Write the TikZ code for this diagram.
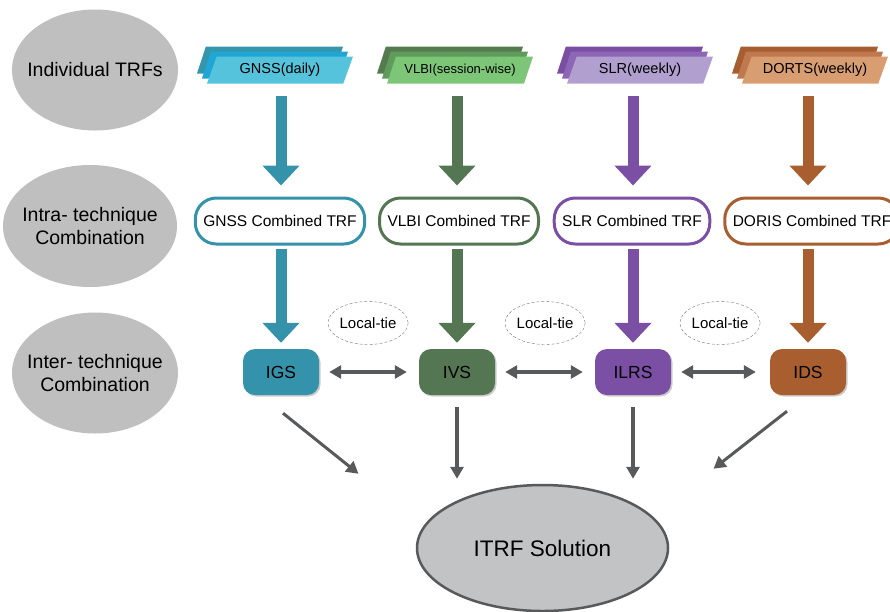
\documentclass[tikz,border=0pt]{standalone}
\usepackage{fontspec}
\setmainfont{Liberation Sans}
\usetikzlibrary{shapes,arrows.meta,positioning,calc,shadows}

\definecolor{gnss}{HTML}{3493AA}
\definecolor{gnssL}{HTML}{55C3DC}
\definecolor{gnssM}{HTML}{1FA6D4}
\definecolor{gnssB}{HTML}{3596AB}
\definecolor{vlbi}{HTML}{557652}
\definecolor{vlbiL}{HTML}{7DC677}
\definecolor{vlbiM}{HTML}{5F9B5A}
\definecolor{vlbiB}{HTML}{557A50}
\definecolor{slr}{HTML}{7B4FA3}
\definecolor{slrL}{HTML}{B09FCF}
\definecolor{slrM}{HTML}{8E66B6}
\definecolor{slrB}{HTML}{7A4EA3}
\definecolor{doris}{HTML}{A95E30}
\definecolor{dorisL}{HTML}{D89E72}
\definecolor{dorisM}{HTML}{C0784E}
\definecolor{dorisB}{HTML}{A65E30}
\definecolor{levelgray}{HTML}{BFBFBF}
\definecolor{itrfgray}{HTML}{C2C3C5}
\definecolor{linkgray}{HTML}{58595B}
\definecolor{tiegray}{HTML}{7A7A7A}

\tikzset{
  level/.style={ellipse, fill=levelgray, minimum width=166pt, minimum height=121pt, inner sep=0pt},
  leveltext/.style={align=center, font=\fontsize{19.5}{23}\selectfont},
  input/.style={trapezium, trapezium left angle=61, trapezium right angle=119,
    trapezium stretches body=true, minimum width=146pt, minimum height=27pt, inner sep=2pt},
  combined/.style={draw=#1, line width=3pt, fill=white, rounded corners=21pt,
    minimum height=46pt, inner xsep=8pt, font=\fontsize{15.5}{18}\selectfont},
  agency/.style={fill=#1, rounded corners=12pt, minimum width=76pt, minimum height=46pt,
    font=\fontsize{17.5}{20}\selectfont,
    drop shadow={shadow xshift=1.5pt, shadow yshift=-1.5pt, opacity=0.4}},
  bigarrow/.style={draw=#1, line width=11pt,
    -{Triangle[width=36pt,length=20pt]}},
  tie/.style={ellipse, draw=tiegray, dash pattern=on 3pt off 2pt, minimum width=73pt,
    minimum height=43pt, inner sep=0pt, font=\fontsize{15}{18}\selectfont},
  link/.style={draw=linkgray, line width=3.5pt, ->},
  pair/.style={draw=linkgray, line width=3.5pt, <->},
}

\begin{document}
\begin{tikzpicture}[x=1pt,y=-1pt,>={Triangle[width=13pt,length=12pt]}]
\useasboundingbox (0,0) rectangle (890,611);

% Level labels on the left
\node[level, label={[leveltext]center:Individual TRFs}] (indiv) at (95,70) {};
\node[level, minimum width=174pt, minimum height=122pt,
    label={[leveltext]center:Intra- technique\\Combination}] (intra) at (90,226) {};
\node[level, label={[leveltext]center:Inter- technique\\Combination}] (inter) at (95,373) {};

% One column per technique
\foreach \n/\x/\ix/\cx/\fs/\t/\ct/\ag in {
    gnss/281/280/280/14.5/GNSS(daily)/GNSS Combined TRF/IGS,
    vlbi/457/460/459/13/VLBI(session-wise)/VLBI Combined TRF/IVS,
    slr/633/640/632/14.5/SLR(weekly)/SLR Combined TRF/ILRS,
    doris/808/815/812/14.5/DORTS(weekly)/DORIS Combined TRF/IDS} {
    \node[input, fill=\n B] (\n-back) at (\ix-10,60) {\strut};
    \node[input, fill=\n M] (\n-mid) at (\ix-5,65) {\strut};
    \node[input, fill=\n L, font=\fontsize{\fs}{16}\selectfont] (\n-front) at (\ix,70) {\t};
    \node[combined=\n] (\n-comb) at (\cx,221) {\ct};
    \node[agency=\n] (\n-ag) at (\x,372) {\ag};
    \draw[bigarrow=\n, shorten <=12pt, shorten >=11pt]
        (\n-front.south -| \n-ag.north) -- (\n-comb.north -| \n-ag.north);
    \draw[bigarrow=\n, shorten <=3pt, shorten >=6pt]
        (\n-comb.south -| \n-ag.north) -- (\n-ag.north);
}

% Local ties between neighbouring services
\node[tie] (tie1) at (368,323) {Local-tie};
\node[tie] (tie2) at (545,323) {Local-tie};
\node[tie] (tie3) at (720,323) {Local-tie};

\draw[pair, shorten <=10pt, shorten >=12pt] (gnss-ag) -- (vlbi-ag);
\draw[pair, shorten <=10pt, shorten >=12pt] (vlbi-ag) -- (slr-ag);
\draw[pair, shorten <=10pt, shorten >=14pt] (slr-ag) -- (doris-ag);

% Final combination
\node[ellipse, draw=linkgray, line width=2.5pt, fill=itrfgray, minimum width=251pt,
    minimum height=126pt, font=\fontsize{22.5}{26}\selectfont] (itrf) at (542.5,548) {ITRF Solution};

\draw[link, line width=3pt] ($(gnss-ag.south)+(2,18)$) -- ($(itrf.north)+(-184,-10)$);
\draw[link, shorten <=12pt] (vlbi-ag.south) -- ($(vlbi-ag.south |- itrf.north)+(0,-5)$);
\draw[link, shorten <=12pt] (slr-ag.south) -- ($(slr-ag.south |- itrf.north)+(0,-5)$);
\draw[link, line width=3pt] ($(doris-ag.south)+(-21,16)$) -- ($(itrf.north)+(171,-15)$);
\end{tikzpicture}
\end{document}
